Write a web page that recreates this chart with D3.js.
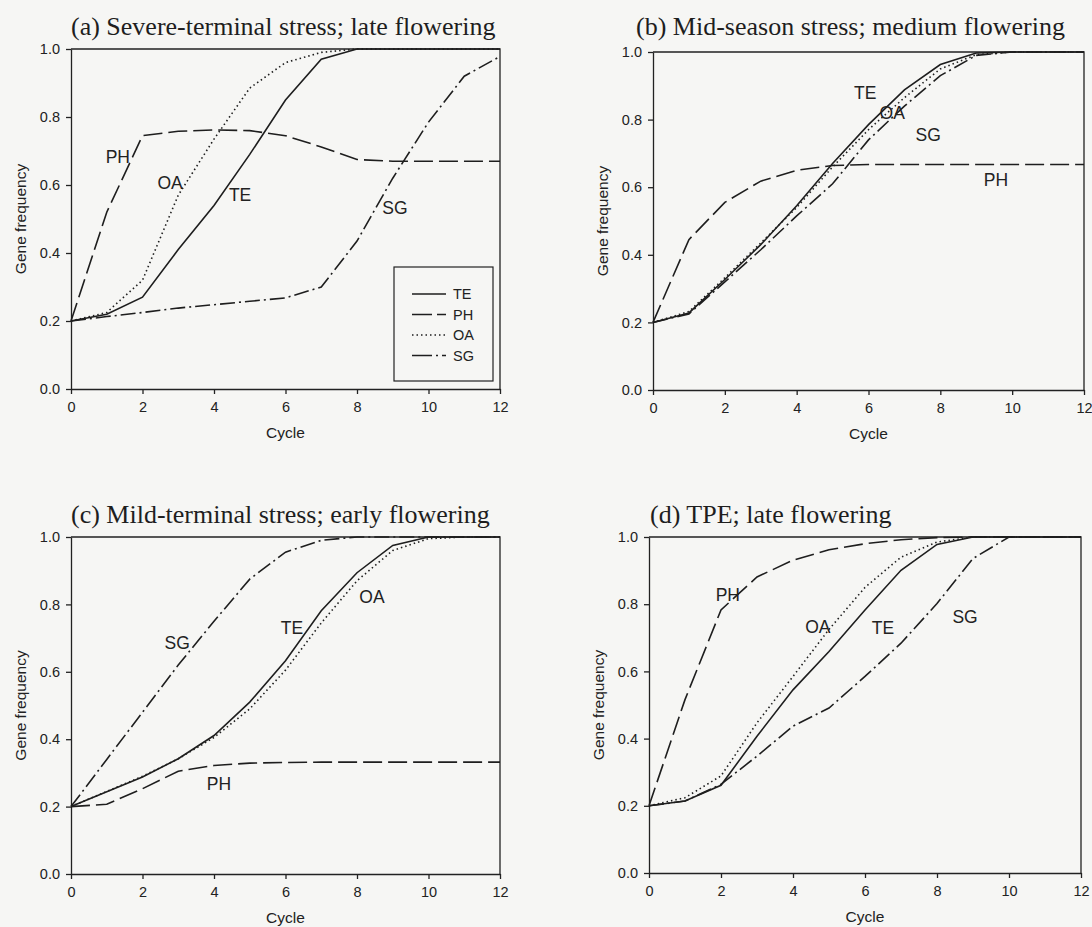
<!DOCTYPE html>
<html>
<head>
<meta charset="utf-8">
<script src="https://cdn.jsdelivr.net/npm/d3@7"></script>
<style>
  html, body { margin: 0; padding: 0; background: #f6f6f4; }
  svg { display: block; }
  .title { font-family: "Liberation Serif", "Times New Roman", serif; font-size: 26px; fill: #1e1e1e; }
  .axis text { font-family: "Liberation Sans", Arial, sans-serif; font-size: 14.5px; fill: #222; }
  .axis path, .axis line { stroke: #222; stroke-width: 1.3; }
  .axis-title { font-family: "Liberation Sans", Arial, sans-serif; font-size: 15.5px; fill: #222; }
  .curve-label { font-family: "Liberation Sans", Arial, sans-serif; font-size: 17.5px; fill: #222; }
  .legend text { font-family: "Liberation Sans", Arial, sans-serif; font-size: 14.5px; fill: #222; }
</style>
</head>
<body>
<script>
const width = 1092
const height = 927

const cycles = [0, 1, 2, 3, 4, 5, 6, 7, 8, 9, 10, 11, 12]
const xTicks = [0, 2, 4, 6, 8, 10, 12]
const yTicks = [0, 0.2, 0.4, 0.6, 0.8, 1.0]
const seriesNames = ['TE', 'PH', 'OA', 'SG']

// (a) severe-terminal stress
const aTE = [0.20, 0.22, 0.27, 0.41, 0.54, 0.69, 0.85, 0.97, 1.00, 1.00, 1.00, 1.00, 1.00]
const aPH = [0.20, 0.52, 0.745, 0.758, 0.762, 0.76, 0.745, 0.712, 0.675, 0.67, 0.67, 0.67, 0.67]
const aOA = [0.20, 0.225, 0.32, 0.57, 0.735, 0.885, 0.96, 0.99, 1.00, 1.00, 1.00, 1.00, 1.00]
const aSG = [0.20, 0.213, 0.225, 0.238, 0.248, 0.258, 0.268, 0.30, 0.435, 0.62, 0.785, 0.92, 0.978]

// (b) mid-season stress
const bTE = [0.20, 0.228, 0.327, 0.43, 0.545, 0.67, 0.785, 0.888, 0.963, 0.997, 1.00, 1.00, 1.00]
const bPH = [0.20, 0.445, 0.555, 0.618, 0.65, 0.664, 0.667, 0.667, 0.667, 0.667, 0.667, 0.667, 0.667]
const bOA = [0.20, 0.232, 0.332, 0.435, 0.54, 0.66, 0.77, 0.865, 0.95, 0.992, 1.00, 1.00, 1.00]
const bSG = [0.20, 0.225, 0.32, 0.415, 0.515, 0.61, 0.74, 0.84, 0.93, 0.99, 1.00, 1.00, 1.00]

// (c) mild-terminal stress
const cTE = [0.20, 0.244, 0.288, 0.342, 0.411, 0.51, 0.633, 0.781, 0.894, 0.975, 1.00, 1.00, 1.00]
const cPH = [0.20, 0.207, 0.253, 0.305, 0.322, 0.329, 0.331, 0.332, 0.332, 0.332, 0.332, 0.332, 0.332]
const cOA = [0.20, 0.245, 0.29, 0.342, 0.405, 0.49, 0.605, 0.745, 0.87, 0.96, 0.995, 1.00, 1.00]
const cSG = [0.20, 0.34, 0.48, 0.62, 0.75, 0.875, 0.955, 0.99, 1.00, 1.00, 1.00, 1.00, 1.00]

// (d) TPE
const dTE = [0.20, 0.214, 0.261, 0.407, 0.545, 0.659, 0.783, 0.901, 0.978, 1.00, 1.00, 1.00, 1.00]
const dPH = [0.20, 0.516, 0.783, 0.881, 0.931, 0.962, 0.98, 0.992, 0.998, 1.00, 1.00, 1.00, 1.00]
const dOA = [0.20, 0.224, 0.289, 0.447, 0.585, 0.725, 0.85, 0.94, 0.985, 1.00, 1.00, 1.00, 1.00]
const dSG = [0.20, 0.214, 0.264, 0.348, 0.437, 0.491, 0.585, 0.684, 0.802, 0.936, 1.00, 1.00, 1.00]

const titles = [
  '(a) Severe-terminal stress; late flowering',
  '(b) Mid-season stress; medium flowering',
  '(c) Mild-terminal stress; early flowering',
  '(d) TPE; late flowering'
]

// where the curve names sit, in data units [cycle, frequency]
const aLabels = [['PH', 1.31, 0.682], ['OA', 2.77, 0.606], ['TE', 4.73, 0.571], ['SG', 9.06, 0.532]]
const bLabels = [['TE', 5.91, 0.879], ['OA', 6.66, 0.82], ['SG', 7.66, 0.754], ['PH', 9.55, 0.621]]
const cLabels = [['SG', 2.97, 0.685], ['TE', 6.18, 0.73], ['OA', 8.42, 0.822], ['PH', 4.14, 0.267]]
const dLabels = [['PH', 2.19, 0.827], ['OA', 4.69, 0.732], ['TE', 6.5, 0.729], ['SG', 8.78, 0.762]]

const dashes = { TE: null, PH: '19,6', OA: '1.5,3', SG: '15,4,2,4' }

// plot boxes (pixels)
const panels = [
  { left: 71, right: 500, top: 49, bottom: 389, titleX: 71, titleY: 35, series: [aTE, aPH, aOA, aSG], labels: aLabels, legend: true },
  { left: 653, right: 1084, top: 52, bottom: 390, titleX: 636, titleY: 35, series: [bTE, bPH, bOA, bSG], labels: bLabels },
  { left: 71, right: 500, top: 537, bottom: 874, titleX: 71, titleY: 523, series: [cTE, cPH, cOA, cSG], labels: cLabels },
  { left: 649, right: 1081, top: 537, bottom: 873, titleX: 650, titleY: 523, series: [dTE, dPH, dOA, dSG], labels: dLabels }
]

const svg = d3.select('body').append('svg')
  .attr('width', width)
  .attr('height', height)

panels.forEach((p, i) => {
  const x = d3.scaleLinear().domain([0, 12]).range([p.left, p.right])
  const y = d3.scaleLinear().domain([0, 1]).range([p.bottom, p.top])
  const g = svg.append('g')

  g.append('text')
    .attr('class', 'title')
    .attr('x', p.titleX)
    .attr('y', p.titleY)
    .text(titles[i])

  // frame top + right
  g.append('path')
    .attr('d', `M${p.left},${p.top}H${p.right}V${p.bottom}`)
    .attr('fill', 'none')
    .attr('stroke', '#222')
    .attr('stroke-width', 1.3)

  g.append('g')
    .attr('class', 'axis')
    .attr('transform', `translate(0,${p.bottom})`)
    .call(d3.axisBottom(x).tickValues(xTicks).tickSize(5).tickSizeOuter(0).tickPadding(8).tickFormat(d3.format('d')))

  g.append('g')
    .attr('class', 'axis')
    .attr('transform', `translate(${p.left},0)`)
    .call(d3.axisLeft(y).tickValues(yTicks).tickSize(5).tickSizeOuter(0).tickPadding(6).tickFormat(d3.format('.1f')))

  g.append('text')
    .attr('class', 'axis-title')
    .attr('x', (p.left + p.right) / 2)
    .attr('y', p.bottom + 49)
    .attr('text-anchor', 'middle')
    .text('Cycle')

  g.append('text')
    .attr('class', 'axis-title')
    .attr('transform', `translate(${p.left - 45},${(p.top + p.bottom) / 2}) rotate(-90)`)
    .attr('text-anchor', 'middle')
    .text('Gene frequency')

  const line = d3.line()
    .x((d, k) => x(cycles[k]))
    .y(d => y(d))

  p.series.forEach((vals, k) => {
    g.append('path')
      .datum(vals)
      .attr('d', line)
      .attr('fill', 'none')
      .attr('stroke', '#1e1e1e')
      .attr('stroke-width', 1.6)
      .attr('stroke-dasharray', dashes[seriesNames[k]])
  })

  g.selectAll('.curve-label')
    .data(p.labels)
    .enter()
    .append('text')
    .attr('class', 'curve-label')
    .attr('x', d => x(d[1]))
    .attr('y', d => y(d[2]))
    .attr('dy', '0.36em')
    .attr('text-anchor', 'middle')
    .text(d => d[0])

  if (p.legend) {
    const lg = g.append('g').attr('class', 'legend')
    lg.append('rect')
      .attr('x', 394).attr('y', 267)
      .attr('width', 99).attr('height', 114)
      .attr('fill', 'none')
      .attr('stroke', '#222')
      .attr('stroke-width', 1.2)
    seriesNames.forEach((name, k) => {
      const ly = 294 + k * 20.5
      lg.append('line')
        .attr('x1', 412).attr('x2', 446)
        .attr('y1', ly).attr('y2', ly)
        .attr('stroke', '#1e1e1e')
        .attr('stroke-width', 1.4)
        .attr('stroke-dasharray', name === 'PH' ? '20,5' : name === 'SG' ? '20,4,2,4' : dashes[name])
      lg.append('text')
        .attr('x', 453).attr('y', ly)
        .attr('dy', '0.36em')
        .text(name)
    })
  }
})
</script>
</body>
</html>
